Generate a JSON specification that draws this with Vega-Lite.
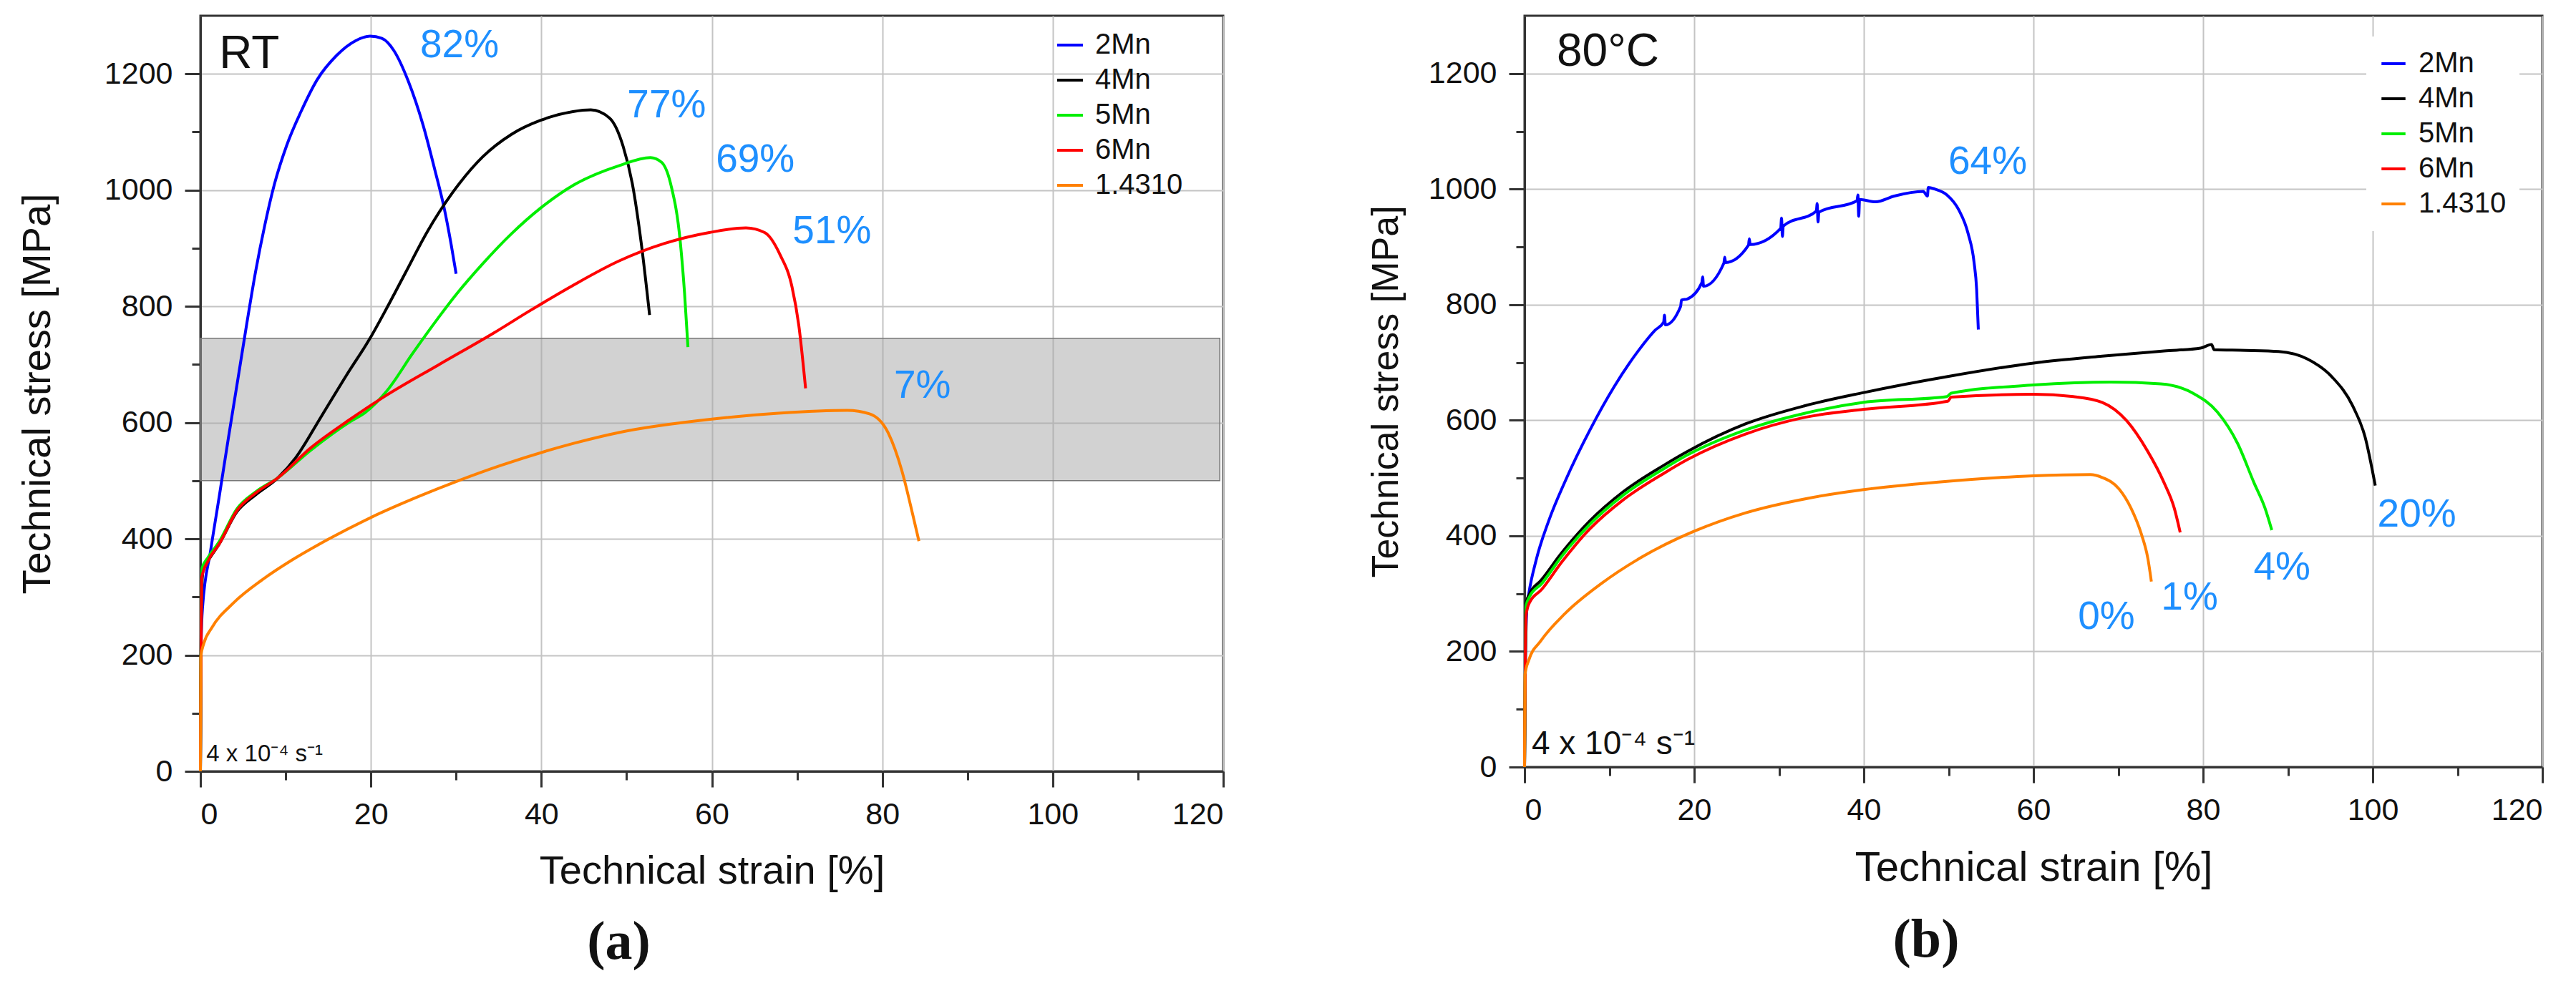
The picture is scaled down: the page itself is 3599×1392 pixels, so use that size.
{
  "$schema": "https://vega.github.io/schema/vega-lite/v6.json",
  "background": "white",
  "padding": {"left": 22, "top": 20, "right": 5, "bottom": 5},
  "spacing": 196,
  "datasets": {
    "rt": [
      {"m": "2Mn", "x": 0, "y": 0}, {"m": "2Mn", "x": 0.1, "y": 230}, {"m": "2Mn", "x": 0.25, "y": 282},
      {"m": "2Mn", "x": 1.2, "y": 380}, {"m": "2Mn", "x": 2.2, "y": 472}, {"m": "2Mn", "x": 3.3, "y": 575},
      {"m": "2Mn", "x": 4.4, "y": 675}, {"m": "2Mn", "x": 5.46, "y": 772}, {"m": "2Mn", "x": 6.45, "y": 858},
      {"m": "2Mn", "x": 7.56, "y": 940}, {"m": "2Mn", "x": 8.68, "y": 1010}, {"m": "2Mn", "x": 10.1, "y": 1076},
      {"m": "2Mn", "x": 11.8, "y": 1135}, {"m": "2Mn", "x": 13.7, "y": 1190}, {"m": "2Mn", "x": 16.0, "y": 1232},
      {"m": "2Mn", "x": 18.2, "y": 1257}, {"m": "2Mn", "x": 19.9, "y": 1265}, {"m": "2Mn", "x": 21.3, "y": 1261},
      {"m": "2Mn", "x": 22.7, "y": 1240}, {"m": "2Mn", "x": 24.4, "y": 1187}, {"m": "2Mn", "x": 26.1, "y": 1113},
      {"m": "2Mn", "x": 27.5, "y": 1035}, {"m": "2Mn", "x": 28.6, "y": 969}, {"m": "2Mn", "x": 29.4, "y": 908},
      {"m": "2Mn", "x": 30.0, "y": 856},

      {"m": "4Mn", "x": 0, "y": 0}, {"m": "4Mn", "x": 0.1, "y": 280}, {"m": "4Mn", "x": 0.3, "y": 345},
      {"m": "4Mn", "x": 0.9, "y": 362}, {"m": "4Mn", "x": 2.2, "y": 391}, {"m": "4Mn", "x": 4.3, "y": 447},
      {"m": "4Mn", "x": 6.5, "y": 476}, {"m": "4Mn", "x": 9.1, "y": 505}, {"m": "4Mn", "x": 11.2, "y": 540},
      {"m": "4Mn", "x": 14.2, "y": 611}, {"m": "4Mn", "x": 17.2, "y": 683}, {"m": "4Mn", "x": 19.9, "y": 745},
      {"m": "4Mn", "x": 21.9, "y": 798}, {"m": "4Mn", "x": 24.1, "y": 859}, {"m": "4Mn", "x": 26.6, "y": 928},
      {"m": "4Mn", "x": 29.6, "y": 996}, {"m": "4Mn", "x": 33.1, "y": 1057}, {"m": "4Mn", "x": 36.5, "y": 1096},
      {"m": "4Mn", "x": 39.9, "y": 1120}, {"m": "4Mn", "x": 43.7, "y": 1135}, {"m": "4Mn", "x": 45.8, "y": 1138},
      {"m": "4Mn", "x": 48.0, "y": 1124}, {"m": "4Mn", "x": 49.6, "y": 1075}, {"m": "4Mn", "x": 50.7, "y": 1009},
      {"m": "4Mn", "x": 51.7, "y": 911}, {"m": "4Mn", "x": 52.7, "y": 785},

      {"m": "5Mn", "x": 0, "y": 0}, {"m": "5Mn", "x": 0.1, "y": 270}, {"m": "5Mn", "x": 0.2, "y": 350},
      {"m": "5Mn", "x": 0.9, "y": 368}, {"m": "5Mn", "x": 2.2, "y": 395}, {"m": "5Mn", "x": 4.3, "y": 452},
      {"m": "5Mn", "x": 6.5, "y": 481}, {"m": "5Mn", "x": 9.1, "y": 505}, {"m": "5Mn", "x": 12.9, "y": 552},
      {"m": "5Mn", "x": 17.6, "y": 602}, {"m": "5Mn", "x": 19.3, "y": 617}, {"m": "5Mn", "x": 21.9, "y": 655},
      {"m": "5Mn", "x": 24.9, "y": 719}, {"m": "5Mn", "x": 27.9, "y": 780}, {"m": "5Mn", "x": 30.1, "y": 822},
      {"m": "5Mn", "x": 33.1, "y": 873}, {"m": "5Mn", "x": 36.5, "y": 925}, {"m": "5Mn", "x": 39.9, "y": 969},
      {"m": "5Mn", "x": 43.7, "y": 1008}, {"m": "5Mn", "x": 49.1, "y": 1042}, {"m": "5Mn", "x": 52.8, "y": 1056},
      {"m": "5Mn", "x": 54.1, "y": 1048}, {"m": "5Mn", "x": 55.2, "y": 1009}, {"m": "5Mn", "x": 56.3, "y": 911},
      {"m": "5Mn", "x": 56.8, "y": 823}, {"m": "5Mn", "x": 57.2, "y": 730},

      {"m": "6Mn", "x": 0, "y": 0}, {"m": "6Mn", "x": 0.1, "y": 250}, {"m": "6Mn", "x": 0.15, "y": 333},
      {"m": "6Mn", "x": 0.9, "y": 362}, {"m": "6Mn", "x": 2.2, "y": 391}, {"m": "6Mn", "x": 4.3, "y": 449},
      {"m": "6Mn", "x": 6.5, "y": 479}, {"m": "6Mn", "x": 9.1, "y": 505}, {"m": "6Mn", "x": 12.9, "y": 556},
      {"m": "6Mn", "x": 17.6, "y": 606}, {"m": "6Mn", "x": 21.5, "y": 644}, {"m": "6Mn", "x": 27.9, "y": 699},
      {"m": "6Mn", "x": 34.4, "y": 754}, {"m": "6Mn", "x": 38.6, "y": 792}, {"m": "6Mn", "x": 43.7, "y": 836},
      {"m": "6Mn", "x": 49.1, "y": 878}, {"m": "6Mn", "x": 54.4, "y": 908}, {"m": "6Mn", "x": 59.7, "y": 927},
      {"m": "6Mn", "x": 64.0, "y": 935}, {"m": "6Mn", "x": 66.2, "y": 927}, {"m": "6Mn", "x": 68.0, "y": 889},
      {"m": "6Mn", "x": 69.4, "y": 834}, {"m": "6Mn", "x": 70.2, "y": 768}, {"m": "6Mn", "x": 71.0, "y": 659},

      {"m": "1.4310", "x": 0, "y": 0}, {"m": "1.4310", "x": 0.05, "y": 198}, {"m": "1.4310", "x": 0.4, "y": 220},
      {"m": "1.4310", "x": 1.34, "y": 247}, {"m": "1.4310", "x": 3.9, "y": 290}, {"m": "1.4310", "x": 7.3, "y": 330},
      {"m": "1.4310", "x": 10.8, "y": 364}, {"m": "1.4310", "x": 15.1, "y": 400}, {"m": "1.4310", "x": 19.9, "y": 436},
      {"m": "1.4310", "x": 25.8, "y": 474}, {"m": "1.4310", "x": 30.1, "y": 499}, {"m": "1.4310", "x": 35.2, "y": 526},
      {"m": "1.4310", "x": 43.7, "y": 564}, {"m": "1.4310", "x": 49.1, "y": 583}, {"m": "1.4310", "x": 60.0, "y": 606},
      {"m": "1.4310", "x": 67.8, "y": 616}, {"m": "1.4310", "x": 75.9, "y": 621}, {"m": "1.4310", "x": 78.5, "y": 615},
      {"m": "1.4310", "x": 80.7, "y": 582}, {"m": "1.4310", "x": 82.3, "y": 517}, {"m": "1.4310", "x": 83.6, "y": 440},
      {"m": "1.4310", "x": 84.3, "y": 396}
    ],
    "hot": [
      {"m": "2Mn", "x": 0, "y": 0}, {"m": "2Mn", "x": 0.1, "y": 180}, {"m": "2Mn", "x": 0.3, "y": 280},
      {"m": "2Mn", "x": 0.5, "y": 300}, {"m": "2Mn", "x": 1.4, "y": 360}, {"m": "2Mn", "x": 2.85, "y": 426},
      {"m": "2Mn", "x": 4.8, "y": 495}, {"m": "2Mn", "x": 7.7, "y": 583}, {"m": "2Mn", "x": 10.6, "y": 659},
      {"m": "2Mn", "x": 13.5, "y": 722}, {"m": "2Mn", "x": 15.4, "y": 756}, {"m": "2Mn", "x": 16.4, "y": 770},
      {"m": "2Mn", "x": 16.5, "y": 782}, {"m": "2Mn", "x": 16.6, "y": 765}, {"m": "2Mn", "x": 18.4, "y": 797},
      {"m": "2Mn", "x": 18.5, "y": 808}, {"m": "2Mn", "x": 19.2, "y": 810}, {"m": "2Mn", "x": 20.9, "y": 838},
      {"m": "2Mn", "x": 21.0, "y": 848}, {"m": "2Mn", "x": 21.1, "y": 832}, {"m": "2Mn", "x": 23.5, "y": 872},
      {"m": "2Mn", "x": 23.6, "y": 882}, {"m": "2Mn", "x": 23.7, "y": 873}, {"m": "2Mn", "x": 26.4, "y": 903},
      {"m": "2Mn", "x": 26.5, "y": 914}, {"m": "2Mn", "x": 26.6, "y": 904}, {"m": "2Mn", "x": 30.2, "y": 932},
      {"m": "2Mn", "x": 30.3, "y": 950}, {"m": "2Mn", "x": 30.4, "y": 918}, {"m": "2Mn", "x": 30.5, "y": 936},
      {"m": "2Mn", "x": 34.4, "y": 962}, {"m": "2Mn", "x": 34.5, "y": 975}, {"m": "2Mn", "x": 34.6, "y": 943},
      {"m": "2Mn", "x": 34.7, "y": 960}, {"m": "2Mn", "x": 39.2, "y": 980}, {"m": "2Mn", "x": 39.3, "y": 990},
      {"m": "2Mn", "x": 39.4, "y": 953}, {"m": "2Mn", "x": 39.5, "y": 982}, {"m": "2Mn", "x": 41.4, "y": 978},
      {"m": "2Mn", "x": 43.6, "y": 988}, {"m": "2Mn", "x": 47.0, "y": 996}, {"m": "2Mn", "x": 47.5, "y": 988},
      {"m": "2Mn", "x": 47.6, "y": 1003}, {"m": "2Mn", "x": 48.4, "y": 1000}, {"m": "2Mn", "x": 49.8, "y": 990},
      {"m": "2Mn", "x": 51.2, "y": 964}, {"m": "2Mn", "x": 52.3, "y": 923}, {"m": "2Mn", "x": 53.0, "y": 873},
      {"m": "2Mn", "x": 53.3, "y": 827}, {"m": "2Mn", "x": 53.5, "y": 757},

      {"m": "4Mn", "x": 0, "y": 0}, {"m": "4Mn", "x": 0.1, "y": 200}, {"m": "4Mn", "x": 0.2, "y": 285},
      {"m": "4Mn", "x": 0.6, "y": 300}, {"m": "4Mn", "x": 1.94, "y": 323}, {"m": "4Mn", "x": 4.4, "y": 371},
      {"m": "4Mn", "x": 7.7, "y": 426}, {"m": "4Mn", "x": 11.6, "y": 476}, {"m": "4Mn", "x": 16.4, "y": 522},
      {"m": "4Mn", "x": 19.2, "y": 546}, {"m": "4Mn", "x": 26.1, "y": 594}, {"m": "4Mn", "x": 33.0, "y": 625},
      {"m": "4Mn", "x": 40.0, "y": 648}, {"m": "4Mn", "x": 50.0, "y": 676}, {"m": "4Mn", "x": 60.0, "y": 699},
      {"m": "4Mn", "x": 68.1, "y": 711}, {"m": "4Mn", "x": 75.4, "y": 720}, {"m": "4Mn", "x": 79.7, "y": 725},
      {"m": "4Mn", "x": 81.0, "y": 731}, {"m": "4Mn", "x": 81.3, "y": 722}, {"m": "4Mn", "x": 85.1, "y": 721},
      {"m": "4Mn", "x": 88.9, "y": 719}, {"m": "4Mn", "x": 92.3, "y": 706}, {"m": "4Mn", "x": 95.2, "y": 675},
      {"m": "4Mn", "x": 97.6, "y": 626}, {"m": "4Mn", "x": 99.1, "y": 571}, {"m": "4Mn", "x": 100.3, "y": 487},

      {"m": "5Mn", "x": 0, "y": 0}, {"m": "5Mn", "x": 0.1, "y": 200}, {"m": "5Mn", "x": 0.2, "y": 280},
      {"m": "5Mn", "x": 0.6, "y": 295}, {"m": "5Mn", "x": 2.0, "y": 317}, {"m": "5Mn", "x": 4.4, "y": 365},
      {"m": "5Mn", "x": 7.7, "y": 420}, {"m": "5Mn", "x": 11.6, "y": 470}, {"m": "5Mn", "x": 16.4, "y": 516},
      {"m": "5Mn", "x": 19.2, "y": 540}, {"m": "5Mn", "x": 26.0, "y": 583}, {"m": "5Mn", "x": 33.0, "y": 612},
      {"m": "5Mn", "x": 40.0, "y": 631}, {"m": "5Mn", "x": 49.8, "y": 641}, {"m": "5Mn", "x": 50.3, "y": 647},
      {"m": "5Mn", "x": 60.0, "y": 661}, {"m": "5Mn", "x": 69.1, "y": 666}, {"m": "5Mn", "x": 75.0, "y": 663},
      {"m": "5Mn", "x": 78.8, "y": 647}, {"m": "5Mn", "x": 81.7, "y": 614}, {"m": "5Mn", "x": 84.1, "y": 559},
      {"m": "5Mn", "x": 86.0, "y": 492}, {"m": "5Mn", "x": 87.3, "y": 448}, {"m": "5Mn", "x": 88.1, "y": 410},

      {"m": "6Mn", "x": 0, "y": 0}, {"m": "6Mn", "x": 0.1, "y": 200}, {"m": "6Mn", "x": 0.2, "y": 265},
      {"m": "6Mn", "x": 0.6, "y": 285}, {"m": "6Mn", "x": 2.0, "y": 307}, {"m": "6Mn", "x": 4.4, "y": 355},
      {"m": "6Mn", "x": 7.7, "y": 412}, {"m": "6Mn", "x": 11.6, "y": 462}, {"m": "6Mn", "x": 16.4, "y": 508},
      {"m": "6Mn", "x": 19.2, "y": 532}, {"m": "6Mn", "x": 26.0, "y": 576}, {"m": "6Mn", "x": 33.0, "y": 605},
      {"m": "6Mn", "x": 40.0, "y": 619}, {"m": "6Mn", "x": 49.9, "y": 633}, {"m": "6Mn", "x": 50.3, "y": 640},
      {"m": "6Mn", "x": 60.0, "y": 645}, {"m": "6Mn", "x": 64.7, "y": 641}, {"m": "6Mn", "x": 68.1, "y": 631},
      {"m": "6Mn", "x": 71.0, "y": 599}, {"m": "6Mn", "x": 73.4, "y": 548}, {"m": "6Mn", "x": 75.4, "y": 492},
      {"m": "6Mn", "x": 76.6, "y": 448}, {"m": "6Mn", "x": 77.3, "y": 406},

      {"m": "1.4310", "x": 0, "y": 0}, {"m": "1.4310", "x": 0.05, "y": 160}, {"m": "1.4310", "x": 0.5, "y": 185},
      {"m": "1.4310", "x": 1.9, "y": 218}, {"m": "1.4310", "x": 4.8, "y": 266}, {"m": "1.4310", "x": 9.1, "y": 318},
      {"m": "1.4310", "x": 13.9, "y": 364}, {"m": "1.4310", "x": 20.0, "y": 408}, {"m": "1.4310", "x": 26.1, "y": 440},
      {"m": "1.4310", "x": 33.4, "y": 465}, {"m": "1.4310", "x": 40.0, "y": 480}, {"m": "1.4310", "x": 48.8, "y": 493},
      {"m": "1.4310", "x": 60.0, "y": 504}, {"m": "1.4310", "x": 66.7, "y": 506}, {"m": "1.4310", "x": 68.1, "y": 501},
      {"m": "1.4310", "x": 70.1, "y": 481}, {"m": "1.4310", "x": 71.5, "y": 448}, {"m": "1.4310", "x": 72.7, "y": 404},
      {"m": "1.4310", "x": 73.5, "y": 360}, {"m": "1.4310", "x": 73.9, "y": 321}
    ],
    "rtPct": [
      {"x": 30.4, "y": 1249, "t": "82%"}, {"x": 54.7, "y": 1146, "t": "77%"}, {"x": 65.1, "y": 1053, "t": "69%"},
      {"x": 74.1, "y": 929, "t": "51%"}, {"x": 84.7, "y": 664, "t": "7%"}
    ],
    "hotPct": [
      {"x": 54.6, "y": 1048, "t": "64%"}, {"x": 105.2, "y": 437, "t": "20%"}, {"x": 89.3, "y": 345, "t": "4%"},
      {"x": 78.4, "y": 293, "t": "1%"}, {"x": 68.6, "y": 260, "t": "0%"}
    ],
    "band": [{"x0": 0, "x1": 119.6, "y0": 500, "y1": 745}]
  },
  "hconcat": [
    {
      "width": 1429,
      "height": 1056,
      "title": {"text": "(a)", "orient": "bottom", "anchor": "middle", "dx": -130, "offset": 35, "baseline": "top", "font": "Liberation Serif", "fontSize": 76, "fontWeight": "bold", "color": "#111"},
      "layer": [
        {
          "data": {"name": "band"},
          "mark": {"type": "rect", "fill": "#a6a6a6", "fillOpacity": 0.5, "stroke": "#777777", "strokeWidth": 1.5},
          "encoding": {
            "x": {"field": "x0", "type": "quantitative"},
            "x2": {"field": "x1"},
            "y": {"field": "y0", "type": "quantitative"},
            "y2": {"field": "y1"}
          }
        },
        {
          "data": {"name": "rt"},
          "mark": {"type": "line", "strokeWidth": 4, "interpolate": "monotone"},
          "encoding": {
            "x": {
              "field": "x", "type": "quantitative",
              "scale": {"domain": [0, 120], "nice": false},
              "axis": {
                "title": "Technical strain [%]", "titlePadding": 30,
                "values": [0, 10, 20, 30, 40, 50, 60, 70, 80, 90, 100, 110, 120],
                "labelExpr": "datum.value % 20 === 0 ? datum.label : ''",
                "tickSize": {"condition": {"test": "datum.value % 20 === 0", "value": 22}, "value": 12},
                "gridOpacity": {"condition": {"test": "datum.value % 20 === 0", "value": 1}, "value": 0}
              }
            },
            "y": {
              "field": "y", "type": "quantitative",
              "scale": {"domain": [0, 1300], "nice": false},
              "axis": {
                "title": "Technical stress [MPa]", "titlePadding": 64,
                "values": [0, 100, 200, 300, 400, 500, 600, 700, 800, 900, 1000, 1100, 1200],
                "labelExpr": "datum.value % 200 === 0 ? datum.label : ''",
                "format": "d",
                "tickSize": {"condition": {"test": "datum.value % 200 === 0", "value": 22}, "value": 12},
                "gridOpacity": {"condition": {"test": "datum.value % 200 === 0", "value": 1}, "value": 0}
              }
            },
            "color": {
              "field": "m", "type": "nominal",
              "scale": {"domain": ["2Mn", "4Mn", "5Mn", "6Mn", "1.4310"], "range": ["#0000ff", "#000000", "#00ee00", "#ff0000", "#ff8000"]},
              "legend": {"orient": "none", "legendX": 1195, "legendY": 21, "symbolSize": 1296, "padding": 0, "rowPadding": 9}
            }
          }
        },
        {
          "data": {"name": "rtPct"},
          "mark": {"type": "text", "fontSize": 55, "color": "#1e8fff", "align": "center", "baseline": "middle"},
          "encoding": {
            "x": {"field": "x", "type": "quantitative"},
            "y": {"field": "y", "type": "quantitative"},
            "text": {"field": "t"}
          }
        },
        {
          "data": {"values": [{"x": 2.2, "y": 1234, "t": "RT"}]},
          "mark": {"type": "text", "fontSize": 64, "color": "#111", "align": "left", "baseline": "middle"},
          "encoding": {
            "x": {"field": "x", "type": "quantitative"},
            "y": {"field": "y", "type": "quantitative"},
            "text": {"field": "t"}
          }
        },
        {
          "data": {"values": [{"x": 0.7, "y": 17, "t": "4 x 10⁻⁴ s⁻¹"}]},
          "mark": {"type": "text", "fontSize": 33, "color": "#111", "align": "left", "baseline": "alphabetic"},
          "encoding": {
            "x": {"field": "x", "type": "quantitative"},
            "y": {"field": "y", "type": "quantitative"},
            "text": {"field": "t"}
          }
        }
      ]
    },
    {
      "width": 1422,
      "height": 1050,
      "title": {"text": "(b)", "orient": "bottom", "anchor": "middle", "dx": -150, "offset": 35, "baseline": "top", "font": "Liberation Serif", "fontSize": 76, "fontWeight": "bold", "color": "#111"},
      "layer": [
        {
          "data": {"name": "hot"},
          "mark": {"type": "line", "strokeWidth": 4, "interpolate": "monotone"},
          "encoding": {
            "x": {
              "field": "x", "type": "quantitative",
              "scale": {"domain": [0, 120], "nice": false},
              "axis": {
                "title": "Technical strain [%]", "titlePadding": 30, "titleFontSize": 58,
                "values": [0, 10, 20, 30, 40, 50, 60, 70, 80, 90, 100, 110, 120],
                "labelExpr": "datum.value % 20 === 0 ? datum.label : ''",
                "tickSize": {"condition": {"test": "datum.value % 20 === 0", "value": 22}, "value": 12},
                "gridOpacity": {"condition": {"test": "datum.value % 20 === 0", "value": 1}, "value": 0}
              }
            },
            "y": {
              "field": "y", "type": "quantitative",
              "scale": {"domain": [0, 1300], "nice": false},
              "axis": {
                "title": "Technical stress [MPa]", "titlePadding": 32, "titleFontSize": 52,
                "values": [0, 100, 200, 300, 400, 500, 600, 700, 800, 900, 1000, 1100, 1200],
                "labelExpr": "datum.value % 200 === 0 ? datum.label : ''",
                "format": "d",
                "tickSize": {"condition": {"test": "datum.value % 200 === 0", "value": 22}, "value": 12},
                "gridOpacity": {"condition": {"test": "datum.value % 200 === 0", "value": 1}, "value": 0}
              }
            },
            "color": {
              "field": "m", "type": "nominal",
              "scale": {"domain": ["2Mn", "4Mn", "5Mn", "6Mn", "1.4310"], "range": ["#0000ff", "#000000", "#00ee00", "#ff0000", "#ff8000"]},
              "legend": {"orient": "none", "legendX": 1176, "legendY": 29, "symbolSize": 1122, "padding": 18, "rowPadding": 9, "fillColor": "white"}
            }
          }
        },
        {
          "data": {"name": "hotPct"},
          "mark": {"type": "text", "fontSize": 55, "color": "#1e8fff", "align": "center", "baseline": "middle"},
          "encoding": {
            "x": {"field": "x", "type": "quantitative"},
            "y": {"field": "y", "type": "quantitative"},
            "text": {"field": "t"}
          }
        },
        {
          "data": {"values": [{"x": 3.8, "y": 1237, "t": "80°C"}]},
          "mark": {"type": "text", "fontSize": 64, "color": "#111", "align": "left", "baseline": "middle"},
          "encoding": {
            "x": {"field": "x", "type": "quantitative"},
            "y": {"field": "y", "type": "quantitative"},
            "text": {"field": "t"}
          }
        },
        {
          "data": {"values": [{"x": 0.84, "y": 22, "t": "4 x 10⁻⁴ s⁻¹"}]},
          "mark": {"type": "text", "fontSize": 46, "color": "#111", "align": "left", "baseline": "alphabetic"},
          "encoding": {
            "x": {"field": "x", "type": "quantitative"},
            "y": {"field": "y", "type": "quantitative"},
            "text": {"field": "t"}
          }
        }
      ]
    }
  ],
  "resolve": {"scale": {"color": "independent"}, "legend": {"color": "independent"}},
  "config": {
    "font": "Liberation Sans",
    "view": {"stroke": "#333333", "strokeWidth": 3},
    "axis": {
      "domainColor": "#333333", "domainWidth": 3,
      "tickColor": "#333333", "tickWidth": 3,
      "labelFontSize": 43, "labelColor": "#111111", "labelPadding": 17,
      "titleFontSize": 56, "titleFontWeight": "normal", "titleColor": "#111111",
      "gridColor": "#c4c4c4", "gridWidth": 2
    },
    "legend": {
      "title": null,
      "symbolType": "stroke",
      "symbolStrokeWidth": 4,
      "labelFontSize": 40,
      "labelColor": "#111111",
      "labelOffset": 15
    }
  }
}
